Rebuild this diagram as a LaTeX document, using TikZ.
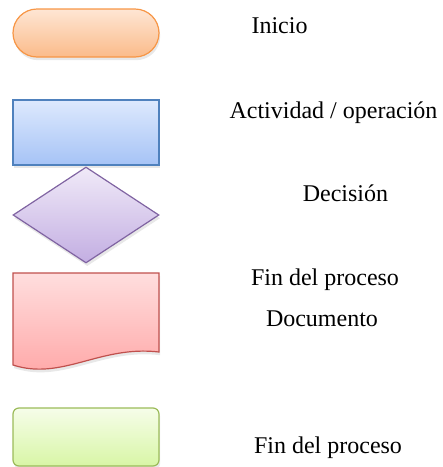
\documentclass[tikz,border=0pt]{standalone}
\usepackage{tikz}
\usepackage{fontspec}
\setmainfont{Liberation Serif}
\usetikzlibrary{shapes.geometric,shadows}

\definecolor{orline}{HTML}{F79646}
\definecolor{ortop}{HTML}{FEE6D4}
\definecolor{orbot}{HTML}{FBBB8A}
\definecolor{blline}{HTML}{4F81BD}
\definecolor{bltop}{HTML}{DDE9FD}
\definecolor{blbot}{HTML}{A6C3F6}
\definecolor{puline}{HTML}{8064A2}
\definecolor{putop}{HTML}{F0EAF8}
\definecolor{pubot}{HTML}{C3AEE2}
\definecolor{reline}{HTML}{C0504D}
\definecolor{retop}{HTML}{FFDEDE}
\definecolor{rebot}{HTML}{FFA5A5}
\definecolor{grline}{HTML}{9BBB59}
\definecolor{grtop}{HTML}{F6FDE9}
\definecolor{grbot}{HTML}{D8F6A6}

\begin{document}
\begin{tikzpicture}[x=0.5pt,y=-0.5pt,line width=0.6pt,
  shad/.style={drop shadow={opacity=0.18,shadow xshift=0.6pt,shadow yshift=-1.6pt}},
  box/.style={draw,inner sep=0pt,minimum width=73pt,shad},
  term/.style={box,rounded corners=12pt,minimum height=24pt,draw=orline,top color=ortop,bottom color=orbot},
  proc/.style={box,rectangle,minimum height=32.5pt,draw=blline,top color=bltop,bottom color=blbot},
  decis/.style={box,diamond,minimum height=48pt,draw=puline,top color=putop,bottom color=pubot},
  fin/.style={box,rounded corners=3pt,minimum height=29pt,draw=grline,top color=grtop,bottom color=grbot},
  lbl/.style={anchor=base,font=\fontsize{12}{14}\selectfont}]

\useasboundingbox (0,0) rectangle (443,467);

% simbolos
\node[term] (A) at (86,33) {};
\node[proc] (B) at (86,132.5) {};
\node[decis] (C) at (86,215) {};
\draw[draw=reline,top color=retop,bottom color=rebot,shad]
  (13,273) -- (159,273) -- (159,352)
  .. controls (100,345) and (62,381) .. (13,365) -- cycle;
\node[fin] (E) at (86,437) {};

% textos
\node[lbl] (tA) at (279.5,33) {Inicio};
\node[lbl] (tB) at (333.5,118) {Actividad / operación};
\node[lbl] (tC) at (345.5,201.5) {Decisión};
\node[lbl] (tD) at (325,285) {Fin del proceso};
\node[lbl] (tD2) at (322,326) {Documento};
\node[lbl] (tE) at (328,453) {Fin del proceso};

\end{tikzpicture}
\end{document}
